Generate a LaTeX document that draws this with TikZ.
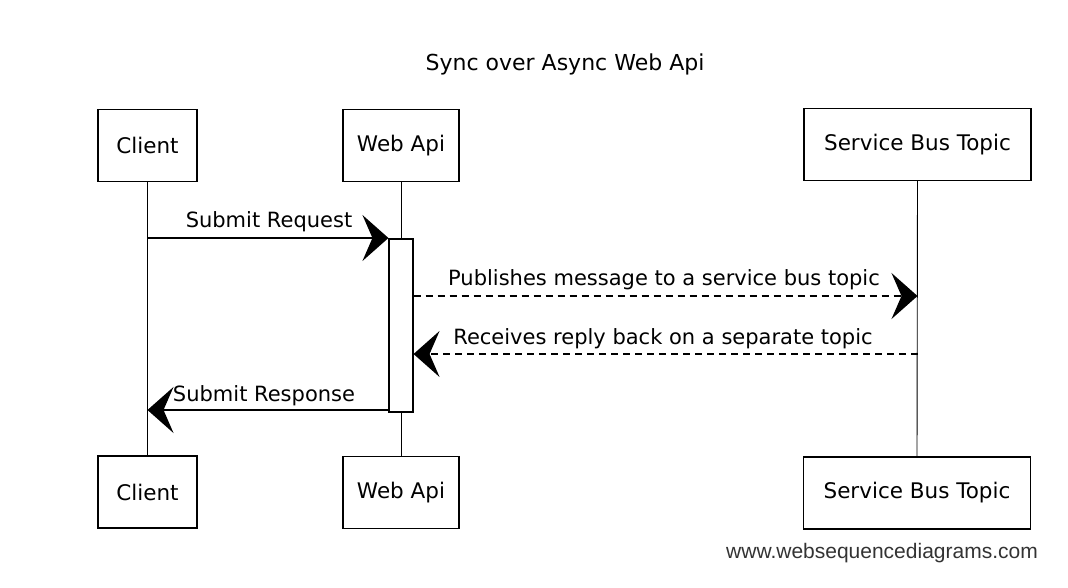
\documentclass[tikz,border=0pt]{standalone}
\usepackage{fontspec}
\setmainfont{DejaVu Sans}
\newfontfamily\wmfont{Liberation Sans}
\usetikzlibrary{arrows.meta}
\begin{document}
\begin{tikzpicture}[x=1pt,y=-1pt,
  actor/.style={draw, line width=1.5pt, minimum width=#1, minimum height=72pt, inner sep=0pt, font=\fontsize{21.5}{24}\selectfont},
  life/.style={line width=0.9pt},
  msg/.style={line width=1.4pt, -{Stealth[length=26pt,width=46pt,inset=10pt]}},
  dmsg/.style={msg, dash pattern=on 7pt off 5pt},
  lbl/.style={font=\fontsize{21}{24}\selectfont, inner sep=0pt},
  act/.style={draw, line width=1.1pt, fill=white, minimum width=24pt, minimum height=173pt, inner sep=0pt}
]
\useasboundingbox (0,0) rectangle (1068,588);
\node[font=\fontsize{22}{25}\selectfont] (title) at (565,64) {Sync over Async Web Api};

\node[actor=99pt] (c1) at (147.5,145.5) {Client};
\node[actor=116pt] (w1) at (401,145.5) {Web Api};
\node[actor=227pt] (s1) at (917.5,144.5) {Service Bus Topic};
\node[actor=99pt] (c2) at (147.5,492) {Client};
\node[actor=116pt] (w2) at (401,492.5) {Web Api};
\node[actor=227pt] (s2) at (917,493) {Service Bus Topic};

\draw[life] (c1.south) -- (c2.north);
\draw[life] (w1.south) -- (w2.north);
\draw[life] (s1.south) -- (s2.north);

\node[act] (a) at (401,325.5) {};

\coordinate (cm1) at (c1.south |- 0,238);
\coordinate (sm2) at (s1.south |- 0,296);
\coordinate (sm3) at (s1.south |- 0,354);
\coordinate (cm4) at (c1.south |- 0,410);

\draw[msg] (cm1) -- (a.west |- cm1);
\draw[dmsg] (a.east |- sm2) -- (sm2);
\draw[dmsg] (sm3) -- (a.east |- sm3);
\draw[msg] (a.west |- cm4) -- (cm4);

\node[lbl] (l1) at (269,222) {Submit Request};
\node[lbl] (l2) at (664,280) {Publishes message to a service bus topic};
\node[lbl] (l3) at (663,339) {Receives reply back on a separate topic};
\node[lbl] (l4) at (264,396) {Submit Response};

\node[font=\wmfont\fontsize{21}{24}\selectfont, text=black!80] (wm) at (882,553) {www.websequencediagrams.com};
\end{tikzpicture}
\end{document}
